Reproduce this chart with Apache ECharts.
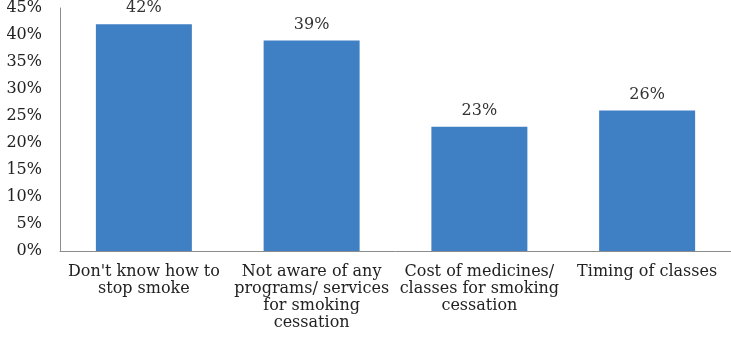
<!DOCTYPE html>
<html><head><meta charset="utf-8">
<script src="https://cdn.jsdelivr.net/npm/echarts@6/dist/echarts.min.js"></script>
<style>html,body{margin:0;padding:0;background:#fff}#c{width:731px;height:342px}</style>
</head><body><div id="c"></div>
<script>
const categories = ["Don't know how to\nstop smoke", "Not aware of any\nprograms/ services\nfor smoking\ncessation", "Cost of medicines/\nclasses for smoking\ncessation", "Timing of classes"];
const values = [42, 39, 23, 26];
const yTicks = [0, 5, 10, 15, 20, 25, 30, 35, 40, 45];

const F = 'DejaVu Serif';
const chart = echarts.init(document.getElementById('c'));
chart.setOption({
  animation: false,
  grid: {left: 60, right: -1, top: 6, bottom: 91},
  xAxis: {
    type: 'category', data: categories,
    axisLine: {lineStyle: {color: '#8c8c8c', width: 1}},
    axisTick: {show: false},
    axisLabel: {interval: 0, fontFamily: F, fontSize: 16, color: '#222', lineHeight: 17, margin: 12}
  },
  yAxis: {
    type: 'value', min: yTicks[0], max: yTicks[yTicks.length-1], interval: 5,
    axisLine: {show: true, lineStyle: {color: '#8c8c8c', width: 1}},
    axisTick: {show: false},
    splitLine: {show: false},
    axisLabel: {formatter: v => v + '%', fontFamily: F, fontSize: 16, color: '#222', margin: 18}
  },
  series: [{
    type: 'bar', data: values, barWidth: 96,
    itemStyle: {color: '#3f80c4'},
    label: {show: true, position: 'top', formatter: p => p.value + '%', fontFamily: F, fontSize: 16, color: '#333', distance: 8}
  }]
});
</script></body></html>
